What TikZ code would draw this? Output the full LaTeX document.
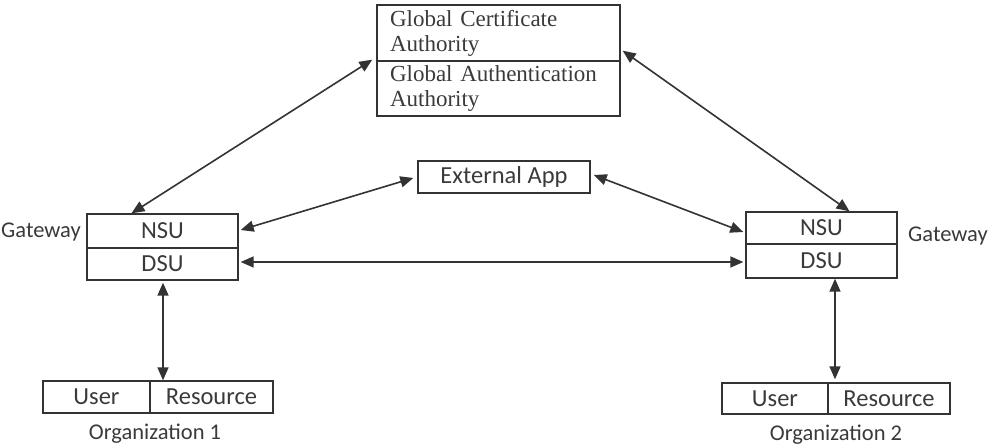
\documentclass[tikz,border=0pt]{standalone}
\usepackage{fontspec}
\setmainfont{Liberation Serif}
\newfontfamily\calib{Carlito}
\usetikzlibrary{arrows.meta}
\definecolor{ink}{HTML}{3A3A3A}
\definecolor{edge}{HTML}{333333}
\begin{document}
\begin{tikzpicture}[x=1pt,y=-1pt,
  box/.style={draw=edge, line width=1.4pt, inner sep=0pt, text=ink, anchor=center},
  sbox/.style={box, font=\calib\fontsize{24.5}{28}\selectfont},
  serbox/.style={box, font=\fontsize{23}{25}\selectfont, text width=217pt, align=left, inner xsep=13pt, minimum width=243pt},
  lbl/.style={text=ink, font=\calib\fontsize{22.5}{26}\selectfont, inner sep=0pt},
  link/.style={draw=edge, line width=1.6pt, {Triangle[length=13pt,width=11pt]}-{Triangle[length=13pt,width=11pt]}}
]
\useasboundingbox (0,0) rectangle (989,446);

% top box
\node[serbox, minimum height=56pt] (gca) at (498.5,33) {Global Certificate\\Authority};
\node[serbox, minimum height=55pt] (gaa) at (498.5,88.5) {Global Authentication\\Authority};

% external app
\node[sbox, minimum width=172pt, minimum height=32pt] (ext) at (504,177) {External App};

% left gateway
\node[sbox, minimum width=151pt, minimum height=34pt] (nsuL) at (162.5,231) {NSU};
\node[sbox, minimum width=151pt, minimum height=32pt] (dsuL) at (162.5,264) {DSU};
\node[lbl] (gwL) at (41,232) {Gateway};

% right gateway
\node[sbox, minimum width=151pt, minimum height=32pt] (nsuR) at (821.5,228) {NSU};
\node[sbox, minimum width=151pt, minimum height=34pt] (dsuR) at (821.5,261) {DSU};
\node[lbl] (gwR) at (948,236) {Gateway};

% organization 1
\node[sbox, minimum width=107pt, minimum height=32pt] (userL) at (96.5,397) {User};
\node[sbox, minimum width=123pt, minimum height=32pt] (resL) at (211.5,397) {Resource};
\node[lbl] (org1) at (155,434) {Organization 1};

% organization 2
\node[sbox, minimum width=106pt, minimum height=31pt] (userR) at (775,398.5) {User};
\node[sbox, minimum width=122pt, minimum height=31pt] (resR) at (889,398.5) {Resource};
\node[lbl] (org2) at (836,435) {Organization 2};

% connector end points (yshift positive = upwards on the page)
\coordinate (gcaL) at ([xshift=-4pt,yshift=2pt]gca.south west);
\coordinate (gcaR) at ([xshift=2pt,yshift=11pt]gca.south east);
\coordinate (nsuLt) at ([xshift=-31pt]nsuL.north);
\coordinate (nsuRt) at ([xshift=28pt]nsuR.north);
\coordinate (extL) at ([xshift=-4pt,yshift=-1pt]ext.west);
\coordinate (extR) at ([xshift=3pt,yshift=2pt]ext.east);
\coordinate (nsuLr) at ([xshift=2pt,yshift=1pt]nsuL.east);
\coordinate (nsuRl) at ([xshift=-2pt,yshift=-4pt]nsuR.west);
\coordinate (dsuLr) at ([xshift=2pt,yshift=2pt]dsuL.east);
\coordinate (dsuRl) at ([xshift=-2pt,yshift=-1pt]dsuR.west);
\coordinate (dsuLb) at ([xshift=0.5pt,yshift=-2pt]dsuL.south);
\coordinate (resLt) at ([xshift=-48.5pt]resL.north);
\coordinate (dsuRb) at ([xshift=13.5pt]dsuR.south);
\coordinate (resRt) at ([xshift=-54pt,yshift=3pt]resR.north);

\draw[link] (gcaL) -- (nsuLt);
\draw[link] (gcaR) -- (nsuRt);
\draw[link] (extL) -- (nsuLr);
\draw[link] (extR) -- (nsuRl);
\draw[link] (dsuLr) -- (dsuRl);
\draw[link] (dsuLb) -- (resLt);
\draw[link] (dsuRb) -- (resRt);
\end{tikzpicture}
\end{document}
